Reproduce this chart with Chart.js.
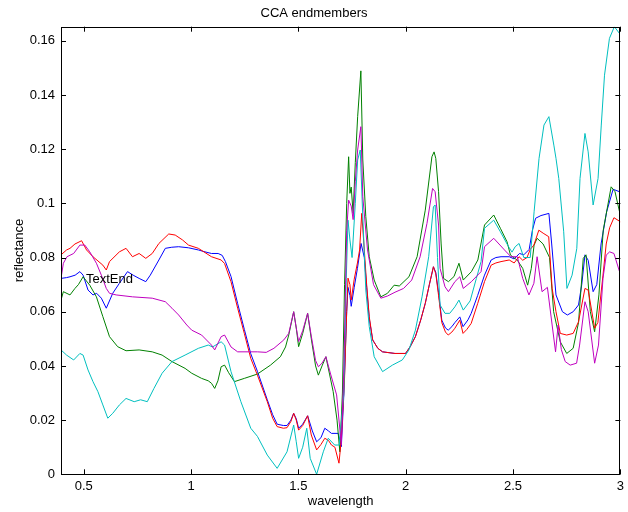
<!DOCTYPE html>
<html>
<head>
<meta charset="utf-8">
<script src="https://cdn.jsdelivr.net/npm/chart.js@4/dist/chart.umd.min.js"></script>
<style>
html, body { margin: 0; padding: 0; background: #fff; }
canvas { display: block; }
</style>
</head>
<body>
<canvas id="c" width="628" height="512"></canvas>
<script>
// axis ticks
const xTicks = [0.5, 1, 1.5, 2, 2.5, 3];
const yTicks = [0, 0.02, 0.04, 0.06, 0.08, 0.1, 0.12, 0.14, 0.16];

// text note placed on the plot
const noteText = 'TextEnd';
const noteX = 0.51;
const noteY = 0.072;

// blue endmember
const blueW = [0.394,0.420,0.436,0.460,0.482,0.497,0.520,0.543,0.560,0.582,0.605,0.635,0.666,0.704,0.730,0.758,0.789,0.810,0.850,0.880,0.910,0.942,0.988,1.034,1.060,1.095,1.126,1.145,1.160,
  1.186,1.217,1.248,1.278,1.309,1.355,1.380,1.401,1.430,1.447,1.465,1.478,1.490,1.501,1.520,1.543,1.565,1.585,1.605,1.623,1.640,1.654,1.685,1.700,1.712,1.725,1.731,1.740,1.746,1.760,1.775,1.792,1.807,1.818,1.830,1.846,1.870,1.892,1.950,1.999,
  2.020,2.045,2.070,2.091,2.110,2.129,2.140,2.153,2.168,2.185,2.198,2.215,2.229,2.252,2.267,2.290,2.305,2.335,2.367,2.398,2.420,2.444,2.482,2.505,2.530,2.550,2.575,2.590,2.605,2.630,2.667,2.680,2.700,2.730,2.753,2.780,2.805,2.820,2.835,2.850,2.873,2.890,2.910,2.936,2.966,2.996];
const blueR = [0.0723,0.0726,0.0729,0.0735,0.0748,0.0735,0.0680,0.0662,0.0668,0.0650,0.0613,0.0668,0.0705,0.0748,0.0735,0.0723,0.0711,0.0735,0.0791,0.0834,0.0838,0.0840,0.0836,0.0828,0.0822,0.0815,0.0815,0.0808,0.0785,
  0.0730,0.0630,0.0535,0.0445,0.0380,0.0275,0.0220,0.0185,0.0180,0.0180,0.0200,0.0225,0.0205,0.0170,0.0185,0.0216,0.0160,0.0120,0.0135,0.0170,0.0160,0.0151,0.0151,0.0102,0.0300,0.0600,0.0690,0.0660,0.0620,0.0690,0.0760,0.0852,0.0800,0.0690,0.0575,0.0496,0.0465,0.0452,0.0446,0.0446,
  0.0470,0.0508,0.0570,0.0631,0.0700,0.0766,0.0745,0.0670,0.0569,0.0540,0.0532,0.0545,0.0560,0.0581,0.0545,0.0570,0.0594,0.0660,0.0735,0.0791,0.0800,0.0803,0.0803,0.0795,0.0815,0.0810,0.0830,0.0900,0.0945,0.0955,0.0963,0.0850,0.0662,0.0600,0.0588,0.0600,0.0625,0.0700,0.0810,0.0790,0.0674,0.0700,0.0850,0.0969,0.1052,0.1043];

// green endmember
const greenW = [0.394,0.405,0.436,0.459,0.475,0.497,0.528,0.559,0.589,0.620,0.658,0.697,0.758,0.819,0.865,0.911,0.972,1.003,1.049,1.080,1.095,1.110,1.125,1.140,1.156,1.175,1.202,1.248,1.309,1.370,1.416,1.440,1.455,1.478,1.490,1.501,1.520,1.543,1.560,1.580,1.593,1.610,1.628,1.645,1.662,1.680,1.693,
  1.705,1.715,1.725,1.734,1.740,1.746,1.755,1.765,1.776,1.791,1.800,1.814,1.830,1.853,1.884,1.915,1.946,1.970,2.015,2.053,2.091,2.122,2.132,2.140,2.153,2.165,2.176,2.199,2.225,2.248,2.268,2.306,2.336,2.367,2.410,2.441,2.472,2.488,2.520,2.545,2.568,2.585,2.598,2.612,2.640,2.670,2.689,2.720,2.750,2.780,2.805,2.827,2.840,2.860,2.880,2.900,2.920,2.957,2.975,2.996];
const greenR = [0.0643,0.0674,0.0662,0.0686,0.0700,0.0729,0.0698,0.0655,0.0582,0.0508,0.0471,0.0456,0.0459,0.0452,0.0440,0.0416,0.0391,0.0373,0.0354,0.0345,0.0336,0.0317,0.0345,0.0397,0.0403,0.0375,0.0342,0.0354,0.0370,0.0403,0.0434,0.0470,0.0514,0.0600,0.0540,0.0471,0.0520,0.0594,0.0500,0.0400,0.0366,0.0400,0.0434,0.0370,0.0305,0.0200,0.0083,
  0.0300,0.0700,0.1000,0.1172,0.1037,0.1060,0.0963,0.1150,0.1320,0.1489,0.1160,0.0951,0.0803,0.0717,0.0655,0.0668,0.0698,0.0695,0.0729,0.0803,0.0975,0.1172,0.1190,0.1166,0.1043,0.0850,0.0723,0.0711,0.0730,0.0779,0.0717,0.0748,0.0791,0.0920,0.0957,0.0908,0.0858,0.0809,0.0790,0.0760,0.0698,0.0760,0.0846,0.0871,0.0850,0.0800,0.0600,0.0489,0.0446,0.0465,0.0560,0.0797,0.0810,0.0600,0.0526,0.0662,0.0900,0.1061,0.1043,0.0969];

// red endmember
const redW = [0.394,0.420,0.436,0.459,0.490,0.513,0.543,0.589,0.605,0.620,0.666,0.697,0.727,0.758,0.789,0.819,0.850,0.896,0.926,0.960,0.988,1.034,1.095,1.140,1.156,
  1.186,1.217,1.248,1.278,1.309,1.355,1.380,1.401,1.430,1.447,1.465,1.478,1.490,1.501,1.520,1.543,1.560,1.585,1.605,1.623,1.640,1.654,1.670,1.689,1.700,1.715,1.725,1.731,1.740,1.746,1.760,1.775,1.785,1.795,1.807,1.818,1.830,1.846,1.870,1.892,1.950,1.999,
  2.020,2.045,2.070,2.091,2.110,2.129,2.140,2.153,2.168,2.185,2.198,2.215,2.229,2.252,2.267,2.285,2.305,2.335,2.367,2.398,2.420,2.444,2.482,2.505,2.528,2.545,2.565,2.580,2.597,2.620,2.640,2.666,2.682,2.700,2.720,2.750,2.780,2.805,2.835,2.850,2.880,2.895,2.919,2.934,2.950,2.970,3.000];
const redR = [0.0810,0.0828,0.0834,0.0850,0.0862,0.0828,0.0803,0.0772,0.0754,0.0785,0.0821,0.0834,0.0803,0.0815,0.0797,0.0815,0.0852,0.0887,0.0883,0.0865,0.0846,0.0834,0.0803,0.0791,0.0778,
  0.0711,0.0613,0.0520,0.0428,0.0366,0.0268,0.0207,0.0176,0.0170,0.0172,0.0195,0.0225,0.0200,0.0163,0.0180,0.0216,0.0145,0.0090,0.0110,0.0133,0.0125,0.0108,0.0100,0.0041,0.0130,0.0355,0.0600,0.0724,0.0700,0.0643,0.0720,0.0780,0.0828,0.0963,0.0828,0.0700,0.0582,0.0496,0.0465,0.0452,0.0446,0.0446,
  0.0470,0.0508,0.0570,0.0631,0.0700,0.0766,0.0740,0.0660,0.0560,0.0525,0.0514,0.0525,0.0539,0.0569,0.0520,0.0535,0.0557,0.0630,0.0711,0.0772,0.0780,0.0785,0.0791,0.0780,0.0803,0.0790,0.0800,0.0830,0.0846,0.0901,0.0890,0.0877,0.0686,0.0600,0.0520,0.0514,0.0520,0.0563,0.0686,0.0680,0.0539,0.0560,0.0735,0.0850,0.0910,0.0947,0.0932];

// cyan endmember
const cyanW = [0.394,0.420,0.453,0.482,0.497,0.520,0.543,0.566,0.589,0.612,0.635,0.666,0.697,0.735,0.765,0.796,0.827,0.865,0.911,0.972,1.034,1.080,1.100,1.140,1.156,1.186,1.232,1.278,1.309,1.355,1.401,1.447,1.478,1.490,1.501,1.520,1.539,1.555,1.585,1.616,1.639,1.669,1.690,
  1.711,1.723,1.731,1.740,1.750,1.765,1.776,1.788,1.800,1.814,1.830,1.853,1.892,1.938,1.984,2.015,2.045,2.076,2.107,2.129,2.137,2.148,2.160,2.183,2.205,2.229,2.248,2.268,2.300,2.329,2.351,2.367,2.410,2.441,2.479,2.495,2.510,2.528,2.550,2.580,2.598,2.621,2.644,2.667,2.690,2.700,2.713,2.736,2.751,2.775,2.797,2.812,2.835,2.850,2.873,2.896,2.911,2.926,2.949,2.972,2.996];
const cyanR = [0.0459,0.0440,0.0422,0.0446,0.0440,0.0385,0.0342,0.0305,0.0256,0.0207,0.0225,0.0256,0.0280,0.0268,0.0275,0.0268,0.0317,0.0373,0.0416,0.0440,0.0465,0.0477,0.0470,0.0489,0.0477,0.0379,0.0268,0.0170,0.0140,0.0071,0.0022,0.0083,0.0182,0.0120,0.0059,0.0100,0.0170,0.0059,0.0000,0.0083,0.0133,0.0108,0.0108,
  0.0293,0.0723,0.0938,0.0865,0.0800,0.1000,0.1160,0.1197,0.0950,0.0680,0.0545,0.0434,0.0379,0.0403,0.0422,0.0459,0.0532,0.0655,0.0803,0.0987,0.0994,0.0800,0.0625,0.0594,0.0594,0.0618,0.0643,0.0606,0.0640,0.0723,0.0785,0.0908,0.0938,0.0895,0.0840,0.0820,0.0840,0.0852,0.0800,0.0800,0.0969,0.1166,0.1289,0.1320,0.1215,0.1166,0.1092,0.0895,0.0686,0.0735,0.0834,0.1092,0.1258,0.1190,0.0994,0.1092,0.1289,0.1473,0.1609,0.1652,0.1627];

// magenta endmember
const magentaW = [0.394,0.405,0.422,0.453,0.482,0.505,0.528,0.559,0.582,0.605,0.620,0.651,0.727,0.819,0.880,0.911,0.942,0.980,1.003,1.049,1.095,1.110,1.140,1.156,1.186,1.217,1.278,1.309,1.350,1.386,1.432,1.455,1.478,1.490,1.501,1.520,1.543,1.560,1.580,1.593,1.610,1.628,1.650,1.678,1.700,
  1.712,1.725,1.734,1.746,1.755,1.765,1.776,1.791,1.800,1.822,1.850,1.884,1.915,1.950,1.990,2.028,2.067,2.099,2.125,2.137,2.153,2.160,2.183,2.199,2.229,2.252,2.268,2.306,2.351,2.367,2.410,2.460,2.490,2.520,2.545,2.574,2.597,2.612,2.635,2.660,2.682,2.698,2.710,2.725,2.743,2.766,2.796,2.810,2.835,2.850,2.880,2.898,2.919,2.934,2.950,2.970,2.996];
const magentaR = [0.0723,0.0779,0.0803,0.0815,0.0846,0.0846,0.0821,0.0779,0.0735,0.0686,0.0668,0.0662,0.0655,0.0650,0.0637,0.0613,0.0588,0.0551,0.0532,0.0514,0.0477,0.0459,0.0508,0.0514,0.0470,0.0452,0.0452,0.0452,0.0450,0.0465,0.0496,0.0520,0.0600,0.0540,0.0490,0.0530,0.0594,0.0510,0.0420,0.0397,0.0410,0.0434,0.0370,0.0293,0.0108,
  0.0400,0.0900,0.1012,0.0990,0.0940,0.1080,0.1197,0.1283,0.1024,0.0828,0.0700,0.0650,0.0658,0.0672,0.0686,0.0717,0.0803,0.0926,0.1055,0.1043,0.0920,0.0760,0.0692,0.0674,0.0711,0.0729,0.0686,0.0711,0.0748,0.0840,0.0871,0.0828,0.0803,0.0803,0.0723,0.0662,0.0705,0.0803,0.0674,0.0690,0.0551,0.0452,0.0551,0.0460,0.0416,0.0403,0.0410,0.0477,0.0637,0.0600,0.0410,0.0477,0.0723,0.0809,0.0821,0.0815,0.0748];

function pts(w, r) {
  return w.map((x, i) => ({ x: x, y: r[i] }));
}

function fmt(v) {
  return String(+Number(v).toFixed(3));
}

Chart.defaults.font.family = '"Liberation Sans", Arial, sans-serif';
Chart.defaults.font.size = 13;
Chart.defaults.color = '#000';

// matlab style box with inward ticks, plus the text note
const matlabBox = {
  id: 'matlabBox',
  afterDraw(chart) {
    const ctx = chart.ctx;
    const a = chart.chartArea;
    const xs = chart.scales.x;
    const ys = chart.scales.y;
    ctx.save();
    ctx.strokeStyle = '#000';
    ctx.lineWidth = 1;
    ctx.strokeRect(Math.round(a.left) + 0.5, Math.round(a.top) + 0.5,
      Math.round(a.right - a.left) - 1, Math.round(a.bottom - a.top) - 1);
    ctx.beginPath();
    xTicks.forEach(v => {
      const px = Math.round(xs.getPixelForValue(v)) + 0.5;
      ctx.moveTo(px, a.bottom); ctx.lineTo(px, a.bottom - 5);
      ctx.moveTo(px, a.top); ctx.lineTo(px, a.top + 5);
    });
    yTicks.forEach(v => {
      const py = Math.round(ys.getPixelForValue(v)) + 0.5;
      ctx.moveTo(a.left, py); ctx.lineTo(a.left + 5, py);
      ctx.moveTo(a.right, py); ctx.lineTo(a.right - 5, py);
    });
    ctx.stroke();
    ctx.fillStyle = '#000';
    ctx.font = '13px "Liberation Sans", Arial, sans-serif';
    ctx.textBaseline = 'middle';
    ctx.textAlign = 'left';
    ctx.fillText(noteText, xs.getPixelForValue(noteX), ys.getPixelForValue(noteY));
    ctx.restore();
  }
};

function line(label, data, color, order) {
  return {
    label: label,
    data: data,
    borderColor: color,
    backgroundColor: color,
    borderWidth: 1,
    pointRadius: 0,
    tension: 0,
    fill: false,
    order: order
  };
}

new Chart(document.getElementById('c'), {
  type: 'line',
  data: {
    datasets: [
      line('1', pts(blueW, blueR), '#0000ff', 5),
      line('2', pts(greenW, greenR), '#008000', 4),
      line('3', pts(redW, redR), '#ff0000', 3),
      line('4', pts(cyanW, cyanR), '#00bfbf', 2),
      line('5', pts(magentaW, magentaR), '#bf00bf', 1)
    ]
  },
  options: {
    responsive: false,
    animation: false,
    events: [],
    layout: { padding: { left: 0, right: 0, top: 0, bottom: 0 }, autoPadding: false },
    plugins: {
      legend: { display: false },
      tooltip: { enabled: false },
      title: {
        display: true,
        text: 'CCA endmembers',
        color: '#000',
        font: { size: 13, weight: 'normal' },
        padding: { top: 6, bottom: 5.1 }
      }
    },
    scales: {
      x: {
        type: 'linear',
        min: 0.394,
        max: 3.0,
        grid: { display: false, drawTicks: false },
        border: { display: false },
        ticks: { padding: 4, maxRotation: 0, autoSkip: false, callback: fmt },
        afterBuildTicks: s => { s.ticks = xTicks.map(v => ({ value: v })); },
        afterFit: s => { s.height = 37.7; },
        title: { display: true, text: 'wavelength', color: '#000', font: { size: 13 }, padding: { top: 0, bottom: 3 } }
      },
      y: {
        type: 'linear',
        min: 0,
        max: 0.1652,
        grid: { display: false, drawTicks: false },
        border: { display: false },
        ticks: { padding: 6, autoSkip: false, callback: fmt },
        afterBuildTicks: s => { s.ticks = yTicks.map(v => ({ value: v })); },
        afterFit: s => { s.width = 61; },
        title: { display: true, text: 'reflectance', color: '#000', font: { size: 13 }, padding: { top: 12, bottom: 0 } }
      }
    }
  },
  plugins: [matlabBox]
});
</script>
</body>
</html>
